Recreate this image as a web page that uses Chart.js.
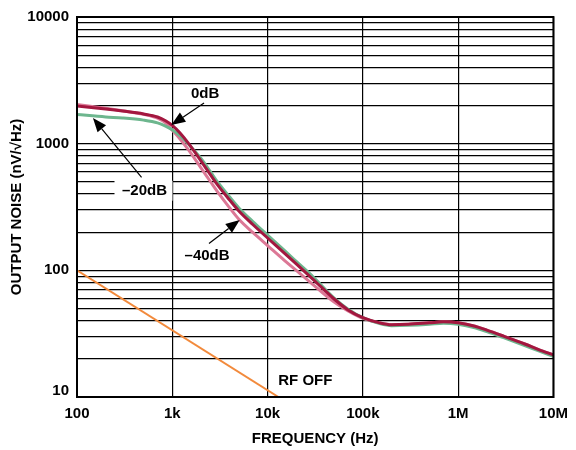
<!DOCTYPE html>
<html>
<head>
<meta charset="utf-8">
<script src="https://cdn.jsdelivr.net/npm/chart.js@4.4.0/dist/chart.umd.min.js"></script>
<style>
  body { margin: 0; background: #fff; }
</style>
</head>
<body>
<canvas id="noiseChart" width="576" height="450"></canvas>
<script>
// values (nV/rtHz vs Hz)
const freqHz = [100, 200, 300, 500, 700, 850, 1000, 1200, 1500, 2000, 2500, 3000, 4000, 5000, 7000, 10000, 15000, 20000,
  30000, 50000, 70000, 100000, 150000, 200000, 300000, 500000, 700000, 1000000, 1500000, 2000000, 3000000, 5000000,
  7000000, 10000000];
const noise0dB = [1982, 1877, 1810, 1716, 1625, 1518, 1395, 1219, 991, 730, 572, 470, 359, 294, 230, 180, 137, 112.6,
  85, 59.4, 48.7, 42.3, 38.5, 37.2, 37.5, 38.5, 39.2, 38.5, 36.2, 33.7, 30.2, 26.2,
  23.7, 21.5];
const noise20dB = [1700, 1625, 1596, 1534, 1459, 1375, 1287, 1155, 982, 763, 604, 496, 379, 311, 243, 190, 144, 117.6,
  89, 60.4, 49.3, 42.3, 38, 36.6, 36.8, 37.5, 38.2, 37.5, 35.2, 32.8, 29.4, 25.5,
  23.1, 20.9];
const noise40dB = [2035, 1900, 1817, 1706, 1591, 1459, 1275, 1094, 882, 644, 505, 414, 311, 253, 199, 157, 120, 100,
  77.2, 56.2, 47.8, 41.8, 38.5, 37.2, 37.5, 38.5, 39.2, 38.5, 36.2, 33.7, 30.2, 26.2,
  23.7, 21.5];
const rfOffHz = [100, 13000];
const rfOffNoise = [100, 10];

const xTicks = [100, 1000, 10000, 100000, 1000000, 10000000];
const xTickLabels = ['100', '1k', '10k', '100k', '1M', '10M'];
const yDecades = [10, 100, 1000, 10000];
const yTickLabels = ['10', '100', '1000', '10000'];

// callouts, placed in data coordinates
const noteText = ['0dB', '\u201320dB', '\u201340dB', 'RF OFF'];
const noteAt = [[2208, 2483], [511, 425], [2317, 131], [24900, 13.3]];
const noteBox = [false, true, false, false];
const arrowFrom = [[2154, 2090], [476, 542], [2427, 163]];
const arrowTo = [[977, 1406], [147, 1596], [5105, 250]];

const fam = '"Liberation Sans", Arial, Helvetica, sans-serif';
const tickFont = { family: fam, size: 15, weight: 'bold' };

// minor grid lines 2..9 in each decade
var yGrid = [];
yDecades.forEach(function(d, i) {
    if (i == yDecades.length - 1) { yGrid.push(d); return; }
    for (let k = 1; k < 10; k++) yGrid.push(d * k);
});

function pts(xs, ys) {
    return xs.map((v, i) => ({ x: v, y: ys[i] }));
}

const notes = {
    id: 'notes',
    afterDatasetsDraw(chart) {
        const { ctx, chartArea: a, scales: { x, y } } = chart;
        ctx.save();
        ctx.strokeStyle = '#000';
        ctx.lineWidth = 2;
        ctx.strokeRect(a.left, a.top, a.right - a.left, a.bottom - a.top);

        ctx.font = 'bold 15px ' + fam;
        ctx.textAlign = 'center';
        ctx.textBaseline = 'middle';
        noteText.forEach(function(t, i) {
            const px = x.getPixelForValue(noteAt[i][0]);
            const py = y.getPixelForValue(noteAt[i][1]);
            if (noteBox[i]) {
                ctx.fillStyle = '#fff';
                ctx.fillRect(px - 30, py - 10, 58, 20);
            }
            ctx.fillStyle = '#000';
            ctx.fillText(t, px, py);
        });

        // arrows with filled heads
        ctx.lineWidth = 1.2;
        arrowFrom.forEach(function(f, i) {
            const x0 = x.getPixelForValue(f[0]), y0 = y.getPixelForValue(f[1]);
            const x1 = x.getPixelForValue(arrowTo[i][0]), y1 = y.getPixelForValue(arrowTo[i][1]);
            const ang = Math.atan2(y1 - y0, x1 - x0);
            const hl = 14, hw = 5.5;
            const bx = x1 - hl * Math.cos(ang), by = y1 - hl * Math.sin(ang);
            ctx.beginPath();
            ctx.moveTo(x0, y0);
            ctx.lineTo(bx, by);
            ctx.stroke();
            ctx.beginPath();
            ctx.moveTo(x1, y1);
            ctx.lineTo(bx + hw * Math.sin(ang), by - hw * Math.cos(ang));
            ctx.lineTo(bx - hw * Math.sin(ang), by + hw * Math.cos(ang));
            ctx.closePath();
            ctx.fill();
        });

        // bottom y label sits a bit higher than its grid line
        ctx.font = 'bold 15px ' + fam;
        ctx.textAlign = 'right';
        ctx.fillText(yTickLabels[0], a.left - 8, y.getPixelForValue(yDecades[0]) - 6);
        ctx.restore();
    }
};

const ctx = document.getElementById('noiseChart').getContext('2d');
const chart = new Chart(ctx, {
    type: 'line',
    data: {
        datasets: [{
            label: '0dB',
            data: pts(freqHz, noise0dB),
            borderColor: '#a3173f',
            borderWidth: 3,
            cubicInterpolationMode: 'monotone'
        }, {
            label: '-20dB',
            data: pts(freqHz, noise20dB),
            borderColor: '#6db68e',
            borderWidth: 3,
            cubicInterpolationMode: 'monotone'
        }, {
            label: '-40dB',
            data: pts(freqHz, noise40dB),
            borderColor: '#dc7896',
            borderWidth: 3,
            cubicInterpolationMode: 'monotone'
        }, {
            label: 'RF OFF',
            data: pts(rfOffHz, rfOffNoise),
            borderColor: '#f28a3c',
            borderWidth: 2,
            tension: 0
        }]
    },
    options: {
        responsive: false,
        animation: false,
        layout: { padding: { top: 13, right: 19, left: 0, bottom: 0 } },
        plugins: { legend: { display: false }, tooltip: { enabled: false } },
        elements: { point: { radius: 0 } },
        scales: {
            x: {
                type: 'logarithmic',
                min: 100,
                max: 10000000,
                afterBuildTicks: s => { s.ticks = xTicks.map(v => ({ value: v })); },
                afterFit: s => { s.height = 53; },
                ticks: {
                    autoSkip: false, maxRotation: 0, padding: 8, color: '#000', font: tickFont,
                    callback: v => { const i = xTicks.indexOf(v); return i < 0 ? '' : xTickLabels[i]; }
                },
                grid: { color: '#000', lineWidth: 1.2, drawTicks: false },
                border: { color: '#000', width: 2 },
                title: { display: true, text: 'FREQUENCY (Hz)', color: '#000', font: tickFont, padding: { top: 0, bottom: 2 } }
            },
            y: {
                type: 'logarithmic',
                min: 10,
                max: 10000,
                afterBuildTicks: s => { s.ticks = yGrid.map(v => ({ value: v })); },
                afterFit: s => { s.width = 77; },
                ticks: {
                    autoSkip: false, padding: 8, color: '#000', font: tickFont,
                    callback: v => { const i = yDecades.indexOf(v); return i <= 0 ? '' : yTickLabels[i]; }
                },
                grid: { color: '#000', lineWidth: 1.2, drawTicks: false },
                border: { color: '#000', width: 2 },
                title: { display: true, text: 'OUTPUT NOISE (nV/\u221AHz)', color: '#000', font: tickFont, padding: { top: 8, bottom: 0 } }
            }
        }
    },
    plugins: [notes]
});
</script>
</body>
</html>
